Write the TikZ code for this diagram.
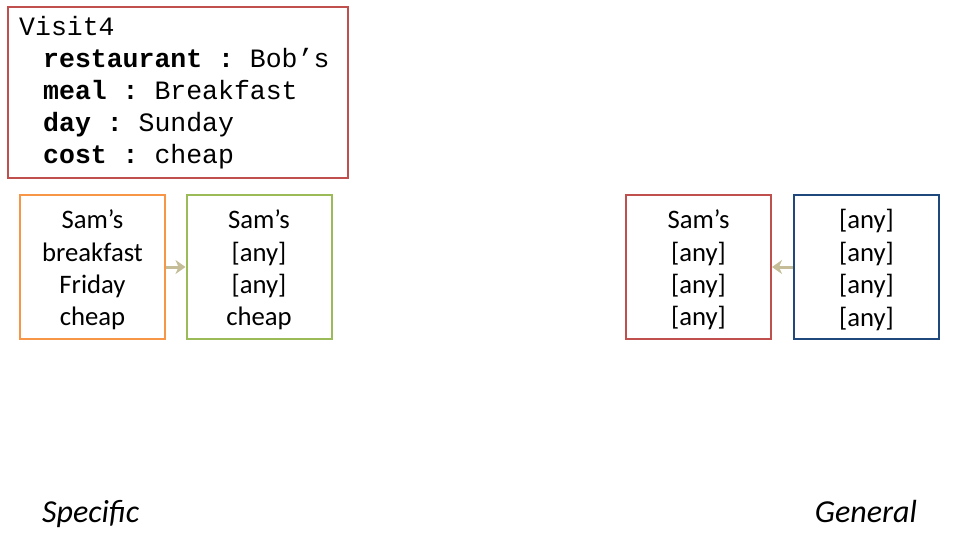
\documentclass[tikz,border=0pt]{standalone}
\usepackage{fontspec}
\setmainfont{Carlito}
\newfontfamily\courfont{Liberation Mono}
\usetikzlibrary{arrows.meta}
\definecolor{cOrange}{HTML}{F79646}
\definecolor{cGreen}{HTML}{9BBB59}
\definecolor{cRed}{HTML}{C0504D}
\definecolor{cBlue}{HTML}{1F497D}
\definecolor{cTan}{HTML}{C4BD97}
\frenchspacing
\begin{document}
\begin{tikzpicture}[x=1pt,y=-1pt]
\useasboundingbox (0,0) rectangle (960,540);
\tikzset{
  card/.style={draw, line width=2pt, minimum width=145pt, minimum height=144pt, inner sep=0pt},
  cardtext/.style={inner sep=0pt, align=center, font=\fontsize{26.7}{32.4}\selectfont},
  link/.style={draw=cTan, line width=3pt, -{Stealth[length=10pt,width=14pt,inset=3pt]}},
  label/.style={font=\fontsize{32}{38}\selectfont\itshape, inner sep=0pt}
}
% top record box
\node[draw=cRed, line width=2pt, minimum width=340pt, minimum height=171pt, inner sep=0pt] (rec) at (178,92.5) {};
\node[anchor=north west, inner sep=0pt, align=left, font=\courfont\fontsize{26.5}{32}\selectfont] (rectext) at (19,16)
{Visit4\\
\hspace*{24pt}\textbf{restaurant :} Bob’s\\
\hspace*{24pt}\textbf{meal :} Breakfast\\
\hspace*{24pt}\textbf{day :} Sunday\\
\hspace*{24pt}\textbf{cost :} cheap};
% cards
\node[card, draw=cOrange] (o) at (92.5,267) {};
\node[card, draw=cGreen] (g) at (259,267) {};
\node[card, draw=cRed] (r) at (698.5,267) {};
\node[card, draw=cBlue] (b) at (866.5,267) {};
\node[cardtext] (ot) at (92.5,270) {Sam’s\\breakfast\\Friday\\cheap};
\node[cardtext] (gt) at (259,270) {Sam’s\\{[any]}\\{[any]}\\cheap};
\node[cardtext] (rt) at (698.5,270) {Sam’s\\{[any]}\\{[any]}\\{[any]}};
\node[cardtext] (bt) at (866.5,270) {{[any]}\\{[any]}\\{[any]}\\{[any]}};
% arrows
\draw[link] (o.east) -- (g.west);
\draw[link] (b.west) -- (r.east);
% labels
\node[label, anchor=base west] (spec) at (42,522) {Specific};
\node[label, anchor=base east] (gen) at (917,522) {General};
\end{tikzpicture}
\end{document}
